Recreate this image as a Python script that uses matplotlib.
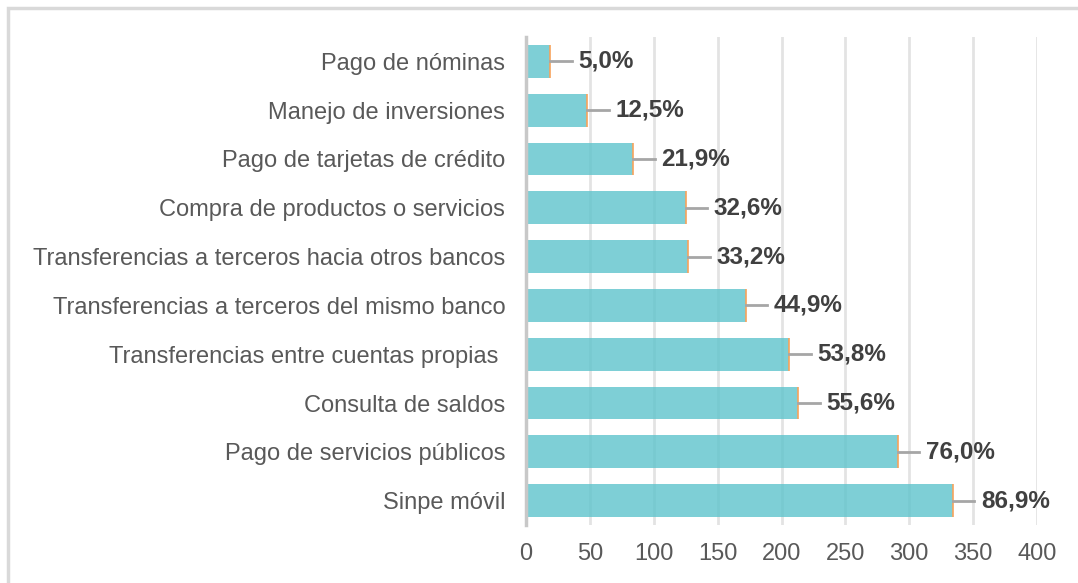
import matplotlib.pyplot as plt
from matplotlib.patches import Rectangle

# categories from top to bottom
categories = [
    "Pago de nóminas",
    "Manejo de inversiones",
    "Pago de tarjetas de crédito",
    "Compra de productos o servicios",
    "Transferencias a terceros hacia otros bancos",
    "Transferencias a terceros del mismo banco",
    "Transferencias entre cuentas propias ",
    "Consulta de saldos",
    "Pago de servicios públicos",
    "Sinpe móvil",
]
counts = [19, 48, 84, 125, 127, 172, 206, 213, 291, 334]
pct_labels = ["5,0%", "12,5%", "21,9%", "32,6%", "33,2%",
              "44,9%", "53,8%", "55,6%", "76,0%", "86,9%"]
xticks = [0, 50, 100, 150, 200, 250, 300, 350, 400]

plt.rcParams['font.family'] = ['Liberation Sans', 'DejaVu Sans']

fig = plt.figure(figsize=(10.78, 5.83), dpi=100)
ax = fig.add_axes([526 / 1078, 1 - 525 / 583, 511 / 1078, 488 / 583])

# outer frame, cropped at right and bottom
fig.patches.append(Rectangle((8 / 1078, -0.05), 1.1, 1 - 8 / 583 + 0.05,
                             transform=fig.transFigure, fill=False,
                             edgecolor='#d9d9d9', linewidth=2.5))

y = list(range(len(categories)))
ax.barh(y, counts, height=0.67, color='#5ec4cc', alpha=0.8, zorder=2)
ax.vlines(counts, [i - 0.335 for i in y], [i + 0.335 for i in y],
          color='#f7a35c', linewidth=1.2, zorder=3)

for i, (c, lab) in enumerate(zip(counts, pct_labels)):
    ax.plot([c, c + 17], [i, i], color='#a6a6a6', linewidth=2, zorder=3)
    ax.text(c + 22, i, lab, va='center', ha='left', fontsize=17.5,
            fontweight='bold', color='#404040')

ax.set_xlim(0, 400)
ax.set_ylim(len(categories) - 0.5, -0.5)
ax.set_yticks(y)
ax.set_yticklabels(categories, fontsize=17, color='#595959')
ax.set_xticks(xticks)
ax.set_xticklabels([str(t) for t in xticks], fontsize=17, color='#595959')
ax.tick_params(axis='y', length=0, pad=15)
ax.tick_params(axis='x', length=0, pad=13)

ax.grid(axis='x', color='#e3e3e3', linewidth=2, zorder=0)
ax.set_axisbelow(True)
for s in ['top', 'right', 'bottom']:
    ax.spines[s].set_visible(False)
ax.spines['left'].set_color('#c8c8c8')
ax.spines['left'].set_linewidth(2.5)
ax.spines['left'].set_zorder(4)

fig.savefig("out.png", dpi=100)
